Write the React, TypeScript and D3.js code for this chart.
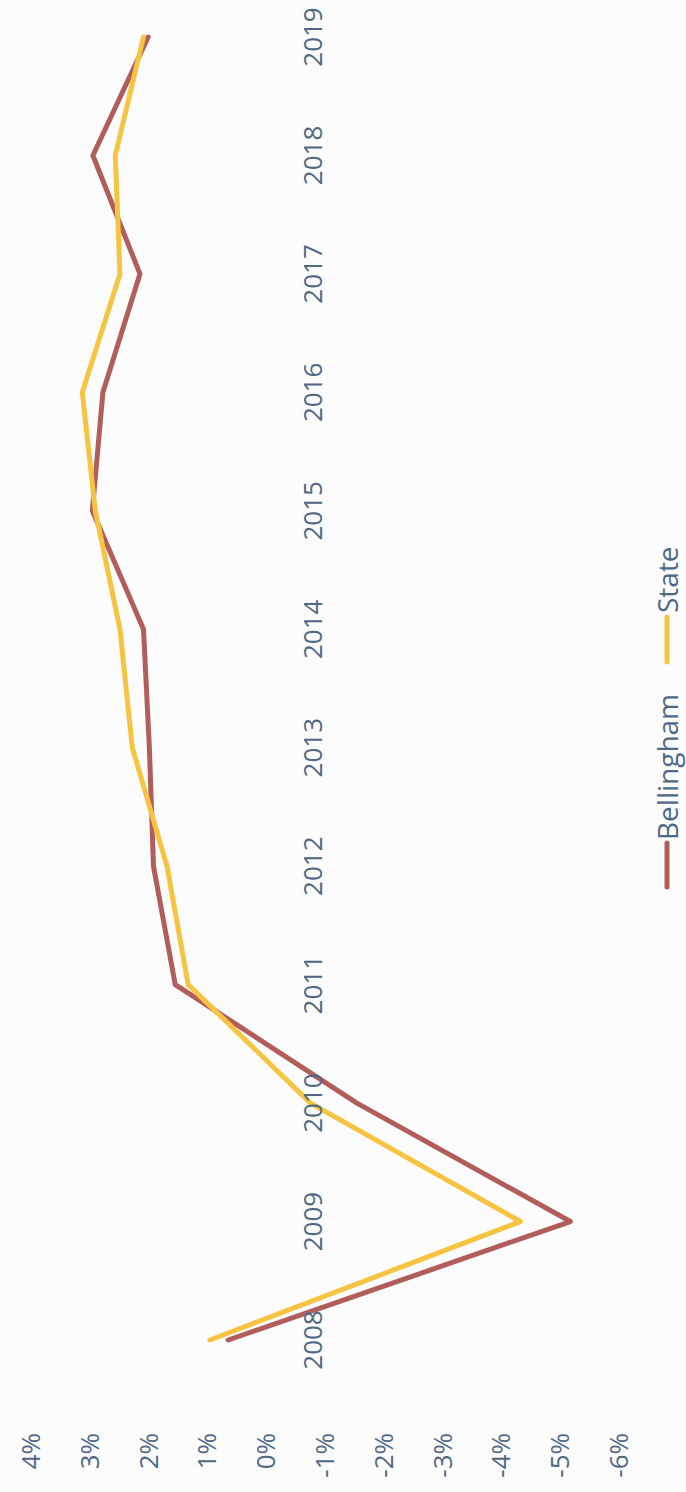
import React from "react";
import * as d3 from "d3";

const years = ["2008","2009","2010","2011","2012","2013","2014","2015","2016","2017","2018","2019"];
const bellingham = [0.63, -5.19, -1.56, 1.53, 1.9, 1.97, 2.07, 2.94, 2.76, 2.13, 2.93, 1.99];
const state = [0.94, -4.34, -0.77, 1.31, 1.67, 2.26, 2.47, 2.89, 3.11, 2.47, 2.55, 2.07];
const valueTicks = [4, 3, 2, 1, 0, -1, -2, -3, -4, -5, -6];
const seriesNames = ["Bellingham", "State"];

const W = 686;
const H = 1492;
const RED = "#b15d5b";
const YELLOW = "#f6c441";
const TEXT = "#4f6886";

export default function App() {
  // chart drawn in landscape orientation (width H, height W), then rotated -90deg
  const x = d3.scalePoint<string>().domain(years).range([152, 1455]);
  const y = d3.scaleLinear().domain([4, -6]).range([30, 618]);
  const line = d3
    .line<number>()
    .x((_, i) => x(years[i]) as number)
    .y((d) => y(d));

  const series = [
    { name: seriesNames[0], values: bellingham, color: RED },
    { name: seriesNames[1], values: state, color: YELLOW },
  ];

  const legendY = 667;
  const legendItems = [
    { name: seriesNames[0], color: RED, x0: 605, x1: 649, tx: 652 },
    { name: seriesNames[1], color: YELLOW, x0: 830, x1: 875, tx: 879 },
  ];

  return (
    <svg
      width={W}
      height={H}
      style={{ position: "absolute", left: 0, top: 0, background: "#fcfcfc" }}
      fontFamily="'Open Sans', sans-serif"
    >
      <rect x={0} y={0} width={W} height={H} fill="#fcfcfc" />
      <g transform={`translate(0,${H}) rotate(-90)`}>
        {series.map((s) => (
          <path
            key={s.name}
            d={line(s.values) || ""}
            fill="none"
            stroke={s.color}
            strokeWidth={5}
            strokeLinejoin="round"
            strokeLinecap="round"
          />
        ))}
        {years.map((yr) => (
          <text
            key={yr}
            x={x(yr)}
            y={312}
            textAnchor="middle"
            dominantBaseline="central"
            fontSize={26}
            fill={TEXT}
          >
            {yr}
          </text>
        ))}
        {valueTicks.map((v) => (
          <text
            key={v}
            x={59}
            y={y(v)}
            textAnchor="end"
            dominantBaseline="central"
            fontSize={26}
            fill={TEXT}
          >
            {`${v}%`}
          </text>
        ))}
        {legendItems.map((l) => (
          <g key={l.name}>
            <line
              x1={l.x0}
              x2={l.x1}
              y1={legendY}
              y2={legendY}
              stroke={l.color}
              strokeWidth={5}
              strokeLinecap="round"
            />
            <text
              x={l.tx}
              y={legendY}
              dominantBaseline="central"
              fontSize={28}
              fill={TEXT}
            >
              {l.name}
            </text>
          </g>
        ))}
      </g>
    </svg>
  );
}
